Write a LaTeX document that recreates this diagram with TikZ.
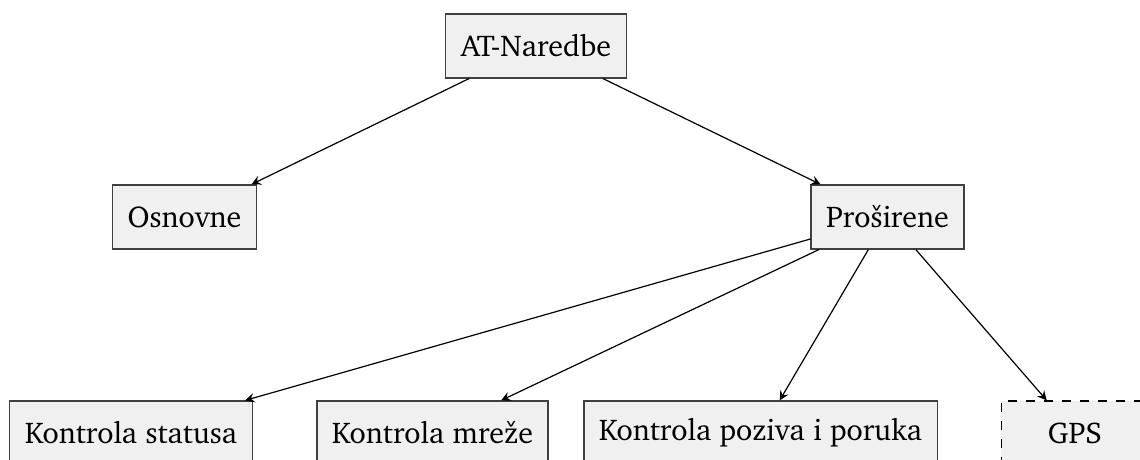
\documentclass[tikz,border=0pt]{standalone}
\usepackage[T1]{fontenc}
\usepackage{charter}
\usepackage{tikz}
\usepackage{xcolor}
\definecolor{boxfill}{HTML}{F0F0F0}
\definecolor{boxline}{HTML}{404040}
\tikzstyle{cmdbox}=[rectangle,draw=boxline,fill=boxfill,inner sep=5pt,minimum height=21.3pt]
\tikzstyle{optbox}=[cmdbox,draw=black,dashed,minimum width=49pt]

\begin{document}
\begin{tikzpicture}[x=0.0117cm,y=-0.0117cm]
      \useasboundingbox (0,0) rectangle (1140,460);
      \begin{scope}
      \clip (0,0) rectangle (1140,460);
      \node[cmdbox] (at) at (536,46) {AT-Naredbe};
      \node[cmdbox] (osn) at (184.5,217) {Osnovne};
      \node[cmdbox] (pro) at (887.5,217) {Pro\v{s}irene};
      \node[cmdbox] (kst) at (131,433) {Kontrola statusa};
      \node[cmdbox] (kmr) at (432.5,433) {Kontrola mre\v{z}e};
      \node[cmdbox] (kpp) at (760.5,433) {Kontrola poziva i poruka};
      \node[optbox] (gps) at (1075,433) {GPS};
      \draw [->,>=stealth] (at) -- (osn);
      \draw [->,>=stealth] (at) -- (pro);
      \draw [->,>=stealth] (pro) -- (kst);
      \draw [->,>=stealth] (pro) -- (kmr);
      \draw [->,>=stealth] (pro) -- (kpp);
      \draw [->,>=stealth] (pro) -- (gps);
      \end{scope}
    \end{tikzpicture}
\end{document}
